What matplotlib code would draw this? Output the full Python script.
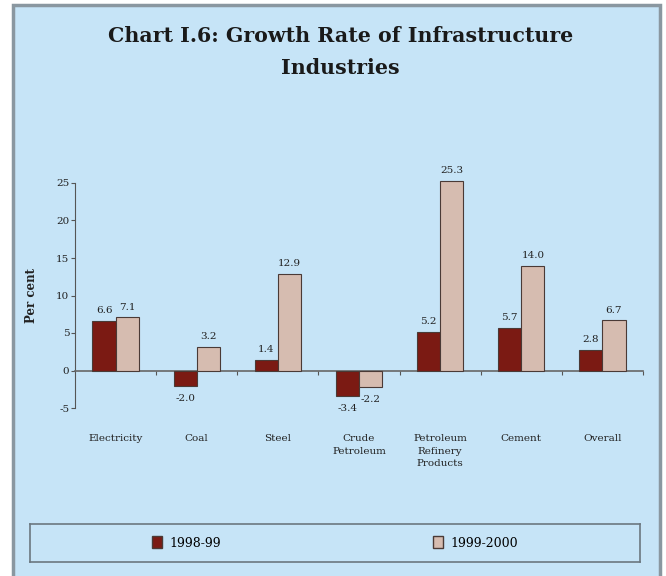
import matplotlib
matplotlib.use("Agg")
import matplotlib.pyplot as plt
from matplotlib.patches import Rectangle, Patch
import numpy as np

categories = ["Electricity", "Coal", "Steel", "Crude\nPetroleum",
              "Petroleum\nRefinery\nProducts", "Cement", "Overall"]
growth_9899 = [6.6, -2.0, 1.4, -3.4, 5.2, 5.7, 2.8]
growth_9900 = [7.1, 3.2, 12.9, -2.2, 25.3, 14.0, 6.7]
series_names = ["1998-99", "1999-2000"]
yticks = [-5, 0, 5, 10, 15, 20, 25]

BG = "#c6e4f7"
MAROON = "#7b1a13"
BEIGE = "#d6bcb0"
EDGE = "#4a3a36"

plt.rcParams["font.family"] = ["DejaVu Serif"]
plt.rcParams["axes.unicode_minus"] = False

fig = plt.figure(figsize=(6.66, 5.76), dpi=100, facecolor="white")
# light blue panel with grey frame, behind everything
fig.patches.append(Rectangle((13 / 666, -0.01), 647 / 666, 1 - 5 / 576 + 0.01,
                             transform=fig.transFigure, facecolor=BG,
                             edgecolor="#8a97a0", lw=2.5, zorder=-5))

fig.text(0.511, 1 - 36 / 576, "Chart I.6: Growth Rate of Infrastructure",
         ha="center", va="center", fontsize=14.8, fontweight="bold", color="#1a1a1a")
fig.text(0.511, 1 - 68 / 576, "Industries",
         ha="center", va="center", fontsize=14.8, fontweight="bold", color="#1a1a1a")

ax = fig.add_axes([75 / 666, 1 - 408 / 576, 568 / 666, 225 / 576])
ax.patch.set_alpha(0)

x = np.arange(len(categories))
w = 0.285
b1 = ax.bar(x - w / 2, growth_9899, w, color=MAROON, edgecolor=EDGE, lw=0.8,
            clip_on=False, zorder=3, label=series_names[0])
b2 = ax.bar(x + w / 2, growth_9900, w, color=BEIGE, edgecolor=EDGE, lw=0.8,
            clip_on=False, zorder=3, label=series_names[1])

for bars, vals in ((b1, growth_9899), (b2, growth_9900)):
    for r, v in zip(bars, vals):
        cx = r.get_x() + r.get_width() / 2
        off = 4 if v >= 0 else -6
        ax.annotate(f"{v:.1f}", (cx, v), xytext=(0, off), textcoords="offset points",
                    ha="center", va="bottom" if v >= 0 else "top",
                    fontsize=7.5, color="#222222", zorder=4, annotation_clip=False)

ax.set_xlim(-0.5, len(categories) - 0.5)
ax.set_ylim(-5, 25)
ax.set_yticks(yticks)
ax.tick_params(axis="y", labelsize=7.5, length=3, width=0.8, color="#555555",
               labelcolor="#222222", pad=1)

ax.spines["top"].set_visible(False)
ax.spines["right"].set_visible(False)
ax.spines["left"].set_color("#555555")
ax.spines["bottom"].set_position(("data", 0))
ax.spines["bottom"].set_color("#666666")
ax.spines["bottom"].set_linewidth(1.2)

ax.set_xticks(x)
ax.set_xticklabels(categories, fontsize=7.5, va="top", linespacing=1.5)
ax.set_xticks(np.arange(0.5, len(categories)), minor=True)
ax.tick_params(axis="x", which="major", length=0, pad=46, labelcolor="#222222")
ax.tick_params(axis="x", which="minor", length=3, width=0.8, color="#555555")

ax.set_ylabel("Per cent", fontsize=8.5, fontweight="bold", labelpad=13, color="#222222")

# legend in a long frame at the bottom
lax = fig.add_axes([30 / 666, 1 - 562 / 576, 610 / 666, 38 / 576])
lax.set_xticks([])
lax.set_yticks([])
lax.patch.set_alpha(0)
for s in lax.spines.values():
    s.set_color("#6b7780")
    s.set_linewidth(1.2)
handles = [Patch(facecolor=MAROON, edgecolor=EDGE), Patch(facecolor=BEIGE, edgecolor=EDGE)]
lax.legend(handles, series_names, loc="center", ncol=2, frameon=False,
           fontsize=9, handlelength=0.8, handleheight=1.1, handletextpad=0.6,
           columnspacing=17)

fig.savefig("out.png", dpi=100, facecolor="white")
